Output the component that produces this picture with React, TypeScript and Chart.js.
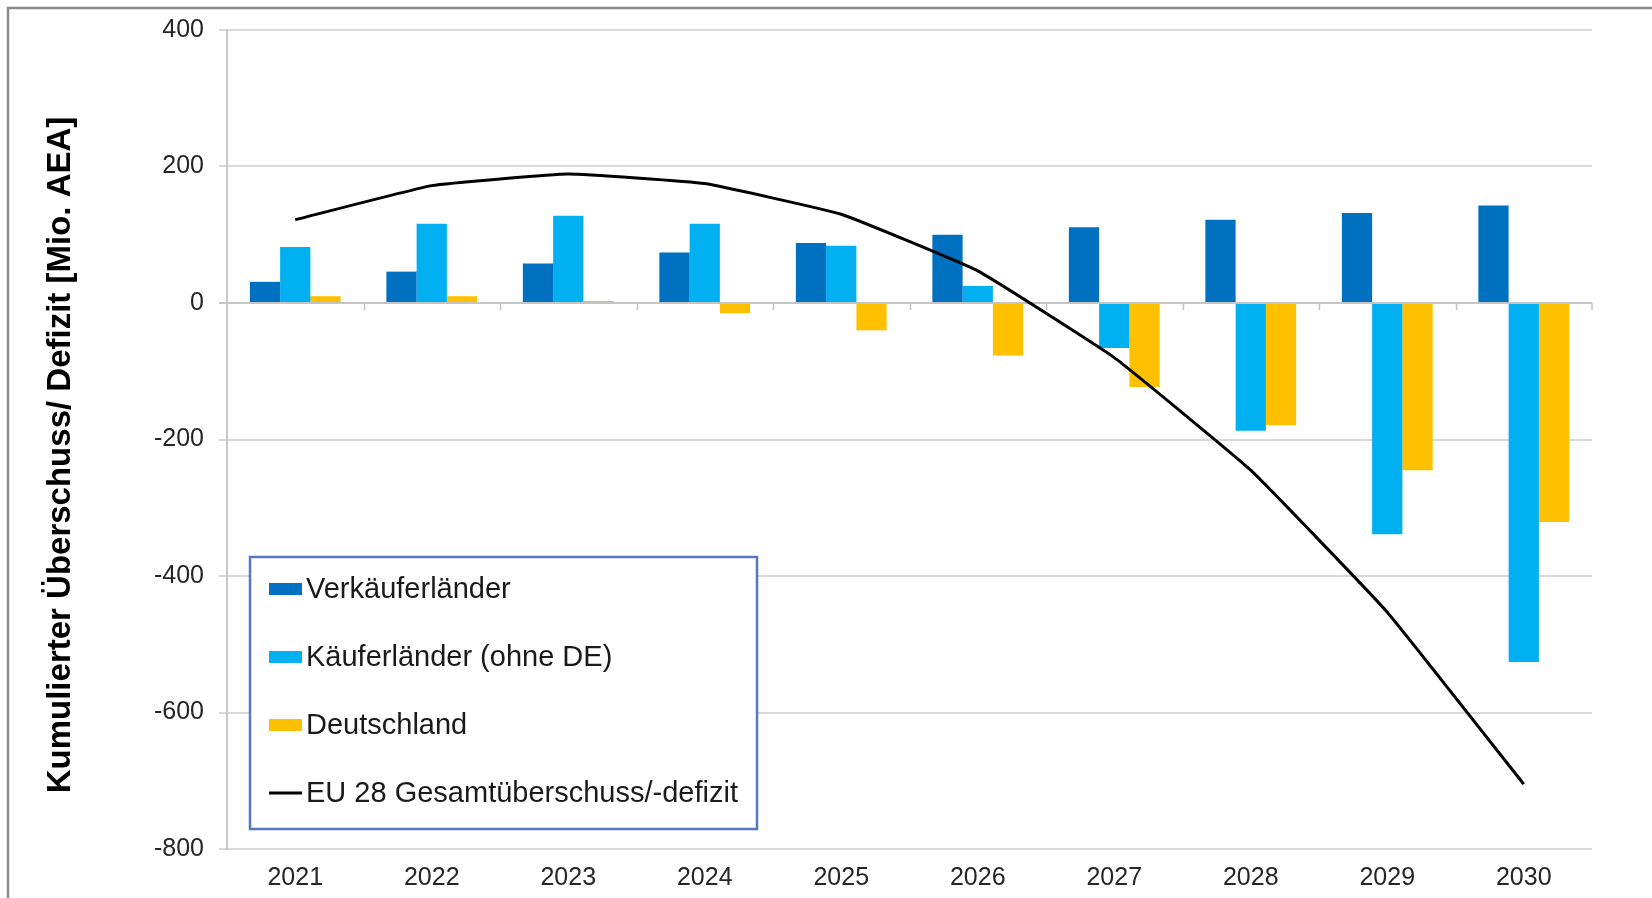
import React, { useEffect, useRef } from "react";
import { Chart, registerables } from "chart.js";

Chart.register(...registerables);

// ---- data ----
const years = ["2021", "2022", "2023", "2024", "2025", "2026", "2027", "2028", "2029", "2030"];
const verkaeuferlaender = [31, 46, 58, 74, 88, 100, 111, 122, 132, 143];
const kaeuferlaender = [82, 116, 128, 116, 84, 25, -66, -187, -339, -526];
const deutschland = [10, 10, 3, -15, -40, -77, -123, -179, -245, -321];
const eu28 = [122, 172, 189, 175, 130, 47, -80, -245, -453, -705];
const seriesLabels = [
  "Verkäuferländer",
  "Käuferländer (ohne DE)",
  "Deutschland",
  "EU 28 Gesamtüberschuss/-defizit",
];
const yAxisTitle = "Kumulierter Überschuss/ Defizit [Mio. AEA]";
const yMin = -800;
const yMax = 400;
const yStep = 200;

const COLORS = ["#0070C0", "#00B0F0", "#FFC000", "#000000"];
const FONT = "'Liberation Sans', Arial, sans-serif";

const framePlugin = {
  id: "frame",
  beforeDraw(chart: any) {
    const { ctx, width, height } = chart;
    ctx.save();
    ctx.fillStyle = "#ffffff";
    ctx.fillRect(0, 0, width, height);
    ctx.strokeStyle = "#8a8a8a";
    ctx.lineWidth = 2.5;
    ctx.beginPath();
    ctx.moveTo(8, height);
    ctx.lineTo(8, 8);
    ctx.lineTo(width, 8);
    ctx.stroke();
    ctx.restore();
  },
};

const zeroTicksPlugin = {
  id: "zeroTicks",
  beforeDatasetsDraw(chart: any) {
    const { ctx, scales } = chart;
    const x = scales.x;
    const y = scales.y;
    const y0 = y.getPixelForValue(0);
    ctx.save();
    ctx.strokeStyle = "#c4c4c4";
    ctx.lineWidth = 1.5;
    ctx.beginPath();
    for (let i = 1; i <= years.length; i++) {
      const bx =
        i < years.length
          ? Math.round((x.getPixelForValue(i - 1) + x.getPixelForValue(i)) / 2) + 0.5
          : x.right;
      ctx.moveTo(bx, y0);
      ctx.lineTo(bx, y0 + 7);
    }
    ctx.stroke();
    ctx.restore();
  },
};

const titlePlugin = {
  id: "yTitle",
  afterDraw(chart: any) {
    const { ctx, chartArea } = chart;
    ctx.save();
    ctx.translate(61, chartArea.top + 425);
    ctx.rotate(-Math.PI / 2);
    ctx.font = `bold 33px ${FONT}`;
    ctx.fillStyle = "#000000";
    ctx.textAlign = "center";
    ctx.textBaseline = "middle";
    ctx.fillText(yAxisTitle, 0, 0);
    ctx.restore();
  },
};

const legendBoxPlugin = {
  id: "legendBox",
  afterDraw(chart: any) {
    const { ctx, chartArea } = chart;
    const bx = chartArea.left + 23;
    const by = chartArea.top + 527;
    const bw = 507;
    const bh = 272;
    ctx.save();
    ctx.fillStyle = "#ffffff";
    ctx.fillRect(bx, by, bw, bh);
    ctx.strokeStyle = "#5478C8";
    ctx.lineWidth = 2.5;
    ctx.strokeRect(bx, by, bw, bh);
    ctx.font = `29px ${FONT}`;
    ctx.textBaseline = "middle";
    ctx.textAlign = "left";
    chart.data.datasets.forEach((ds: any, i: number) => {
      const cy = by + 32 + i * 68;
      const sx = bx + 19;
      if (ds.type === "line") {
        ctx.strokeStyle = ds.borderColor;
        ctx.lineWidth = 3;
        ctx.beginPath();
        ctx.moveTo(sx, cy);
        ctx.lineTo(sx + 33, cy);
        ctx.stroke();
      } else {
        ctx.fillStyle = ds.backgroundColor;
        ctx.fillRect(sx, cy - 6, 33, 12);
      }
      ctx.fillStyle = "#1a1a1a";
      ctx.fillText(ds.label, sx + 37, cy + 1);
    });
    ctx.restore();
  },
};

export default function App() {
  const ref = useRef<HTMLCanvasElement | null>(null);

  useEffect(() => {
    if (!ref.current) return;
    const chart = new Chart(ref.current, {
      type: "bar",
      data: {
        labels: years,
        datasets: [
          {
            type: "bar",
            label: seriesLabels[0],
            data: verkaeuferlaender,
            backgroundColor: COLORS[0],
            order: 1,
          },
          {
            type: "bar",
            label: seriesLabels[1],
            data: kaeuferlaender,
            backgroundColor: COLORS[1],
            order: 1,
          },
          {
            type: "bar",
            label: seriesLabels[2],
            data: deutschland,
            backgroundColor: COLORS[2],
            order: 1,
          },
          {
            type: "line",
            label: seriesLabels[3],
            data: eu28,
            borderColor: COLORS[3],
            backgroundColor: COLORS[3],
            borderWidth: 3,
            pointRadius: 0,
            tension: 0.1,
            fill: false,
            order: 0,
          },
        ] as any,
      },
      options: {
        responsive: false,
        animation: false,
        events: [],
        layout: { padding: { left: 0, top: 29, right: 60, bottom: 0 } },
        datasets: {
          bar: { barPercentage: 1, categoryPercentage: 0.665 },
        } as any,
        plugins: {
          legend: { display: false },
          tooltip: { enabled: false },
          title: { display: false },
        },
        scales: {
          x: {
            offset: true,
            grid: { display: false, drawTicks: false },
            border: { display: false },
            ticks: {
              font: { family: FONT, size: 25 },
              color: "#262626",
              padding: 14,
              maxRotation: 0,
            },
            afterFit: (s: any) => {
              s.height = 49;
            },
          },
          y: {
            min: yMin,
            max: yMax,
            ticks: {
              stepSize: yStep,
              font: { family: FONT, size: 25 },
              color: "#262626",
              padding: 15,
            },
            grid: {
              color: (c: any) => (c.tick && c.tick.value === 0 ? "#c4c4c4" : "#d9d9d9"),
              lineWidth: 2,
              tickLength: 8,
              drawTicks: true,
            },
            border: { display: true, color: "#c8c8c8", width: 2 },
            afterFit: (s: any) => {
              s.width = 227;
            },
          },
        },
      },
      plugins: [framePlugin, zeroTicksPlugin, titlePlugin, legendBoxPlugin],
    });
    return () => chart.destroy();
  }, []);

  return (
    <div style={{ position: "absolute", left: 0, top: 0, width: 1652, height: 898, background: "#fff" }}>
      <canvas ref={ref} width={1652} height={898} style={{ display: "block" }} />
    </div>
  );
}
